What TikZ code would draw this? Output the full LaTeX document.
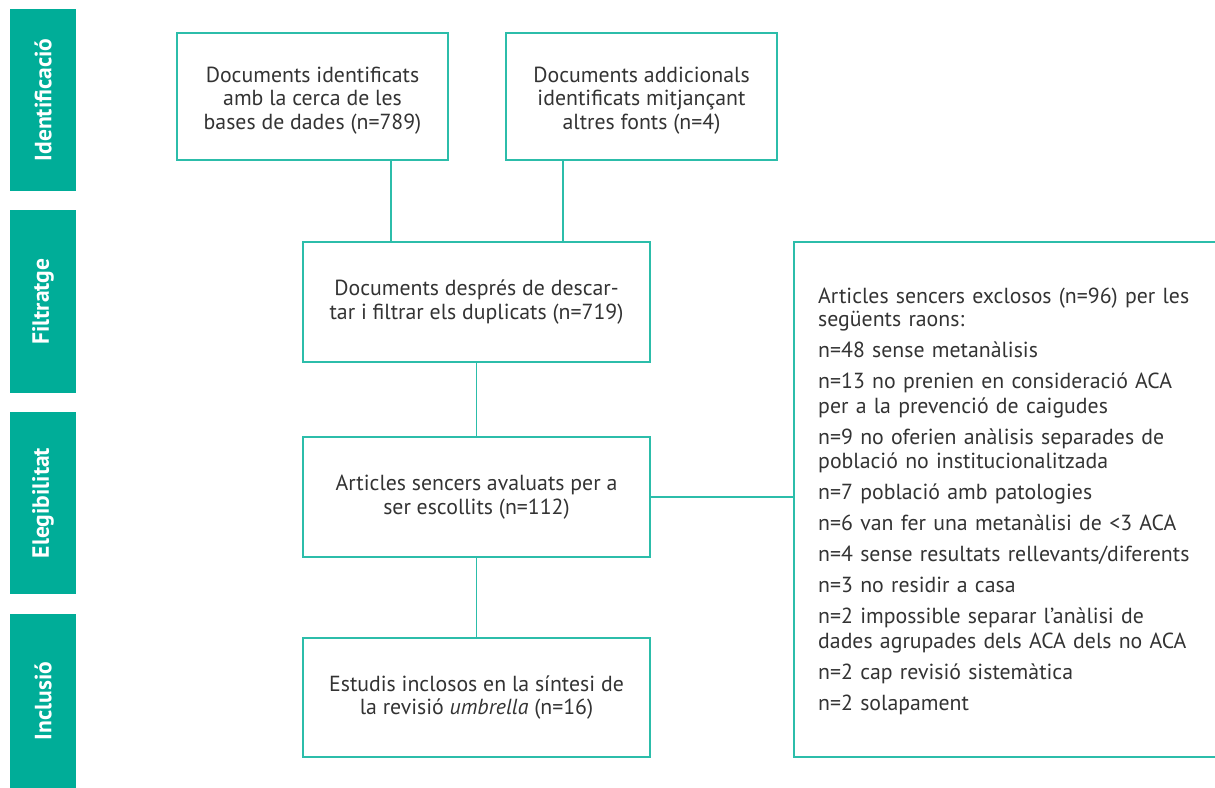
\documentclass[tikz,border=0pt]{standalone}
\usepackage{fontspec}
\setmainfont{PT Sans}
\definecolor{barfill}{HTML}{00AD98}
\definecolor{linec}{HTML}{2CBDAA}
\definecolor{txt}{HTML}{333333}
\begin{document}
\begin{tikzpicture}[x=1pt,y=-1pt,
  bar/.style={fill=barfill,draw=none,minimum height=66pt,text=white,
    font=\fontsize{23.5}{26}\selectfont\bfseries,rotate=90,inner sep=0pt},
  box/.style={draw=linec,line width=1.8pt,text=txt,align=center,
    font=\fontsize{21.8}{23.5}\selectfont,inner sep=0pt},
  exlist/.style={text=txt,align=left,text width=390pt,inner sep=0pt,
    font=\fontsize{21.8}{24.5}\selectfont},
  conn/.style={draw=linec,line width=1.8pt}]
\useasboundingbox (0,0) rectangle (1215,787);
\clip (0,0) rectangle (1215,787);
% side bars
\node[bar,minimum width=182pt] (s1) at (43,100) {Identificació};
\node[bar,minimum width=183pt] (s2) at (43,301.5) {Filtratge};
\node[bar,minimum width=182pt] (s3) at (43,503) {Elegibilitat};
\node[bar,minimum width=175pt] (s4) at (43,701) {Inclusió};
% boxes
\node[box,minimum width=271pt,minimum height=127pt] (b1) at (312.5,96.5)
  {\rule{0pt}{23pt}Documents identificats\\amb la cerca de les\\bases de dades (n=789)};
\node[box,minimum width=271pt,minimum height=127pt] (b2) at (641.5,96.5)
  {\rule{0pt}{23pt}Documents addicionals\\identificats mitjançant\\altres fonts (n=4)};
\node[box,minimum width=347pt,minimum height=120pt] (b3) at (476.5,302)
  {Documents després de descar-\\tar i filtrar els duplicats (n=719)};
\node[box,minimum width=347pt,minimum height=120pt] (b4) at (476.5,497)
  {Articles sencers avaluats per a\\ser escollits (n=112)};
\node[box,minimum width=347pt,minimum height=119pt] (b5) at (476.5,697.5)
  {Estudis inclosos en la síntesi de\\la revisió \textit{umbrella} (n=16)};
\node[box,minimum width=438pt,minimum height=515pt] (ex) at (1013,499.5) {};
\node[exlist,anchor=north west] (exl) at (818,288)
  {Articles sencers exclosos (n=96) per les\\[-1.5pt]següents raons:\\[6.5pt]
   n=48 sense metanàlisis\\[6.5pt]
   n=13 no prenien en consideració ACA\\per a la prevenció de caigudes\\[6.5pt]
   n=9 no oferien anàlisis separades de\\població no institucionalitzada\\[6.5pt]
   n=7 població amb patologies\\[6.5pt]
   n=6 van fer una metanàlisi de <3 ACA\\[6.5pt]
   n=4 sense resultats rellevants/diferents\\[6.5pt]
   n=3 no residir a casa\\[6.5pt]
   n=2 impossible separar l’anàlisi de\\dades agrupades dels ACA dels no ACA\\[6.5pt]
   n=2 cap revisió sistemàtica\\[6.5pt]
   n=2 solapament};
% connectors
\coordinate (l1) at (391,0);
\coordinate (l2) at (563,0);
\draw[conn] (b1.south -| l1) -- (b3.north -| l1);
\draw[conn] (b2.south -| l2) -- (b3.north -| l2);
\draw[conn] (b3.south) -- (b4.north);
\draw[conn] (b4.south) -- (b5.north);
\draw[conn] (b4.east) -- (b4.east -| ex.west);
\end{tikzpicture}
\end{document}
